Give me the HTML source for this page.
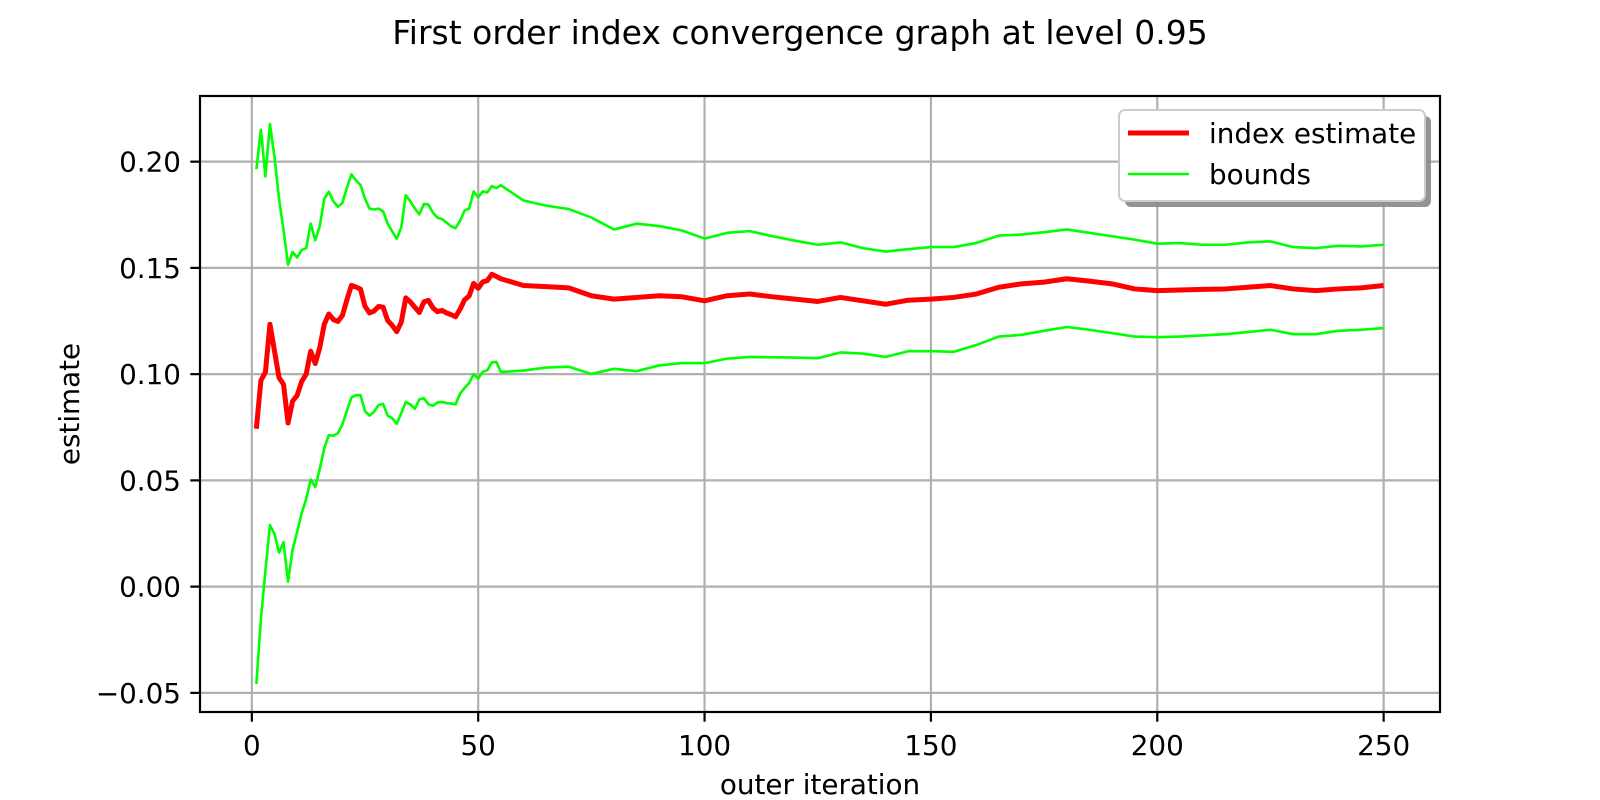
<!DOCTYPE html>
<html><head><meta charset="utf-8"><style>
html,body{margin:0;padding:0;background:#fff;}
svg{display:block;font-family:"DejaVu Sans","Liberation Sans",sans-serif;}
</style></head><body>
<svg id="chart" width="1600" height="800" viewBox="0 0 1600 800" xmlns="http://www.w3.org/2000/svg">
<rect width="1600" height="800" fill="#fff"/>
<text x="800" y="44" font-size="33" text-anchor="middle">First order index convergence graph at level 0.95</text>
<g id="grid"></g>
<g id="series"></g>
<rect x="200" y="96" width="1240" height="616" fill="none" stroke="#000" stroke-width="2.2"/>
<g id="ticks"></g>
<text x="820" y="794" font-size="27.8" text-anchor="middle">outer iteration</text>
<text x="0" y="0" font-size="27.8" text-anchor="middle" transform="translate(79,404) rotate(-90)">estimate</text>
<g>
<rect x="1125" y="116" width="306" height="91" rx="6" fill="#888" opacity="0.9"/>
<rect x="1119" y="110" width="306" height="91" rx="6" fill="#fff" stroke="#ccc" stroke-width="2"/>
<line x1="1128" y1="133" x2="1189" y2="133" stroke="#ff0000" stroke-width="5"/>
<text x="1209" y="143" font-size="27.8">index estimate</text>
<line x1="1128" y1="174" x2="1189" y2="174" stroke="#00ff00" stroke-width="2.6"/>
<text x="1209" y="184" font-size="27.8">bounds</text>
</g>
</svg>
<script>
const iterations = [1,2,3,4,5,6,7,8,9,10,11,12,13,14,15,16,17,18,19,20,21,22,23,24,25,26,27,28,29,30,31,32,33,34,35,36,37,38,39,40,41,42,43,44,45,46,47,48,49,50,51,52,53,54,55,60,65,70,75,80,85,90,95,100,105,110,115,120,125,130,135,140,145,150,155,160,165,170,175,180,185,190,195,200,205,210,215,220,225,230,235,240,245,250];
const estimate = [0.0743,0.097,0.101,0.1235,0.111,0.0984,0.0952,0.077,0.0873,0.090,0.0965,0.100,0.1108,0.105,0.1124,0.1235,0.1283,0.1257,0.1248,0.1276,0.135,0.1418,0.141,0.140,0.1319,0.1288,0.1297,0.1319,0.1315,0.1253,0.123,0.120,0.1244,0.1359,0.134,0.1315,0.129,0.134,0.1347,0.1312,0.1294,0.130,0.1288,0.128,0.127,0.1306,0.135,0.1368,0.1427,0.1404,0.1434,0.144,0.147,0.146,0.1449,0.1417,0.1412,0.1406,0.1369,0.1353,0.1361,0.1369,0.1364,0.1345,0.1369,0.1377,0.1364,0.1353,0.1342,0.1361,0.1345,0.1329,0.1348,0.1353,0.1361,0.1377,0.1409,0.1425,0.1433,0.1449,0.1438,0.1425,0.1401,0.1393,0.1396,0.1399,0.1401,0.1409,0.1417,0.1401,0.1393,0.1401,0.1406,0.1417];
const upperBound = [0.1965,0.215,0.193,0.2177,0.2023,0.1828,0.1678,0.1515,0.1575,0.1549,0.1584,0.1593,0.1708,0.163,0.1696,0.1825,0.1858,0.1814,0.1788,0.1805,0.1878,0.194,0.1912,0.189,0.1825,0.1779,0.1775,0.1779,0.1766,0.1708,0.1672,0.1637,0.169,0.1842,0.1814,0.178,0.1752,0.1801,0.1798,0.176,0.1736,0.173,0.1713,0.1696,0.1687,0.1722,0.177,0.1779,0.186,0.1832,0.186,0.1855,0.1885,0.1876,0.1889,0.1817,0.1793,0.1777,0.1737,0.1681,0.1708,0.1697,0.1676,0.1638,0.1665,0.1673,0.1649,0.1628,0.1609,0.162,0.1593,0.1577,0.1588,0.1598,0.1598,0.1617,0.1652,0.1657,0.1668,0.1681,0.1665,0.1649,0.1633,0.1614,0.1617,0.1609,0.1609,0.162,0.1625,0.1598,0.1593,0.1604,0.1601,0.1609];
const lowerBound = [-0.0458,-0.0154,0.0076,0.0289,0.0248,0.016,0.0209,0.0023,0.0173,0.0257,0.0345,0.0412,0.0504,0.0469,0.0554,0.0651,0.0713,0.071,0.0722,0.0763,0.0828,0.089,0.0901,0.0901,0.0825,0.0805,0.0823,0.0855,0.086,0.0805,0.0793,0.0766,0.0816,0.0869,0.0858,0.0837,0.0881,0.0887,0.0858,0.0851,0.0867,0.0869,0.0864,0.0862,0.0858,0.0908,0.0935,0.0958,0.1,0.0979,0.1011,0.1018,0.1055,0.1058,0.101,0.1017,0.1031,0.1035,0.1001,0.1025,0.1014,0.1041,0.1052,0.1052,0.1073,0.1081,0.1079,0.1078,0.1075,0.1102,0.1097,0.1081,0.1108,0.1108,0.1105,0.1137,0.1177,0.1185,0.1204,0.1222,0.1209,0.1193,0.1177,0.1174,0.1177,0.1182,0.1188,0.1198,0.1209,0.1188,0.1188,0.1204,0.1209,0.1217];
const xTicks = [0,50,100,150,200,250];
const yTicks = [-0.05,0,0.05,0.10,0.15,0.20];
const yTickLabels = ["\u22120.05","0.00","0.05","0.10","0.15","0.20"];

const NS = "http://www.w3.org/2000/svg";
const L = 200, T = 96, W = 1240, H = 616;
const xmin = -11.45, xmax = 262.45, ymin = -0.059, ymax = 0.2309;
function xs(v){ return L + (v - xmin) / (xmax - xmin) * W; }
function ys(v){ return T + (ymax - v) / (ymax - ymin) * H; }
function mk(tag, attrs, parent){
  const el = document.createElementNS(NS, tag);
  for (const k in attrs) el.setAttribute(k, attrs[k]);
  parent.appendChild(el);
  return el;
}
const grid = document.getElementById('grid');
const ticks = document.getElementById('ticks');
const series = document.getElementById('series');

xTicks.forEach(v => {
  const x = xs(v);
  const g = mk('line', {x1:x, y1:T, x2:x, y2:T+H, stroke:'#b0b0b0', 'stroke-width':2.2}, grid);
  
  
  const t = mk('line', {x1:x, y1:T+H, x2:x, y2:T+H+9.7, stroke:'#000', 'stroke-width':2.2}, ticks);
  
  
  const lb = mk('text', {x:x, y:T+H+43, 'font-size':27.8, 'text-anchor':'middle'}, ticks);
  lb.textContent = String(v);
  
  
});
yTicks.forEach((v, i) => {
  const y = ys(v);
  const g = mk('line', {x1:L, y1:y, x2:L+W, y2:y, stroke:'#b0b0b0', 'stroke-width':2.2}, grid);
  
  
  const t = mk('line', {x1:L-9.7, y1:y, x2:L, y2:y, stroke:'#000', 'stroke-width':2.2}, ticks);
  
  
  const lb = mk('text', {x:L-19, y:y+10, 'font-size':27.8, 'text-anchor':'end'}, ticks);
  lb.textContent = yTickLabels[i];
  
  
});
function pts(vals){ return vals.map((v, i) => xs(iterations[i]).toFixed(2) + ',' + ys(v).toFixed(2)).join(' '); }
const up = mk('polyline', {points:pts(upperBound), fill:'none', stroke:'#00ff00', 'stroke-width':2.6, 'stroke-linejoin':'round'}, series);


const lo = mk('polyline', {points:pts(lowerBound), fill:'none', stroke:'#00ff00', 'stroke-width':2.6, 'stroke-linejoin':'round'}, series);


const est = mk('polyline', {points:pts(estimate), fill:'none', stroke:'#ff0000', 'stroke-width':5, 'stroke-linejoin':'round'}, series);


</script>
</body></html>
